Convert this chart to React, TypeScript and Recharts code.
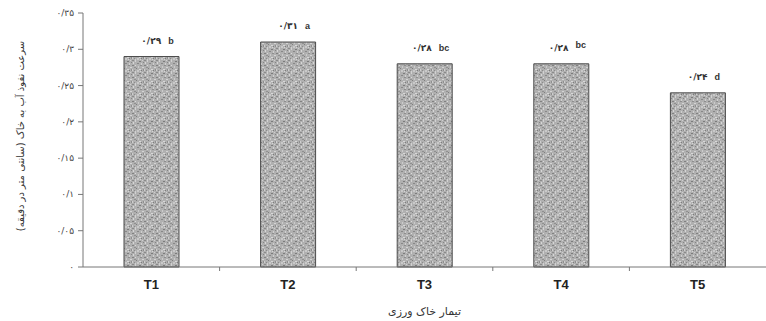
import { BarChart, Bar, XAxis, YAxis, LabelList } from 'recharts';

const categories = ['T1', 'T2', 'T3', 'T4', 'T5'];
const values = [0.29, 0.31, 0.28, 0.28, 0.24];
const letters = ['b', 'a', 'bc', 'bc', 'd'];
const yTicks = [0, 0.05, 0.1, 0.15, 0.2, 0.25, 0.3, 0.35];

const data = categories.map((name, i) => ({ name, value: values[i], letter: letters[i] }));

const faDigits = '۰۱۲۳۴۵۶۷۸۹';
const toFa = (v: number) =>
  String(Number(v.toFixed(2)))
    .replace('.', '/')
    .replace(/\d/g, (d) => faDigits[Number(d)]);

const W = 766;
const H = 321;
const LEFT = 83;
const band = (W - LEFT) / categories.length;
const faFont = '"DejaVu Sans", sans-serif';

// speckles for the granite-like bar fill: [x, y, w, h, colour]
const grains: [number, number, number, number, string][] = [
  [0, 0, 2, 1, '#8a8a8a'], [3, 0, 1, 2, '#d2d2d2'], [7, 1, 2, 1, '#7c7c7c'], [10, 0, 1, 1, '#cfcfcf'],
  [1, 2, 1, 2, '#d6d6d6'], [5, 3, 2, 1, '#888'], [9, 3, 1, 2, '#d0d0d0'], [11, 2, 1, 1, '#858585'],
  [0, 5, 2, 1, '#818181'], [3, 5, 1, 1, '#dadada'], [6, 6, 1, 2, '#cbcbcb'], [8, 5, 2, 1, '#8e8e8e'],
  [2, 7, 2, 1, '#909090'], [10, 7, 2, 1, '#d4d4d4'], [4, 8, 1, 1, '#7f7f7f'], [0, 9, 1, 2, '#cecece'],
  [7, 9, 2, 1, '#d8d8d8'], [2, 10, 1, 1, '#8b8b8b'], [5, 10, 2, 2, '#c9c9c9'], [9, 10, 1, 1, '#7d7d7d'],
  [11, 9, 1, 2, '#8f8f8f'], [3, 11, 1, 1, '#d1d1d1'], [8, 11, 1, 1, '#d5d5d5'],
];

function XTick(props: any) {
  const { x, y, payload, index } = props;
  return (
    <g>
      {index > 0 && <line x1={x - band / 2} x2={x - band / 2} y1={y - 8} y2={y - 4} stroke="#777" />}
      <text x={x} y={y + 14} textAnchor="middle" fontFamily="Liberation Sans, Arial" fontWeight="bold" fontSize={13} fill="#222">
        {payload.value}
      </text>
    </g>
  );
}

function YTick(props: any) {
  const { x, y, payload } = props;
  return (
    <text x={x - 2} y={y + 3} textAnchor="end" fontFamily={faFont} fontSize={9} fill="#444">
      {toFa(payload.value)}
    </text>
  );
}

function ValueLabel(props: any) {
  const { x, y, width, value, index } = props;
  const raised = index === 3;
  return (
    <text x={x + width / 2 + 6} y={y - 13} textAnchor="middle" fontFamily={faFont} fontWeight="bold" fontSize={9} fill="#333">
      {toFa(value)}
      <tspan fontFamily="Liberation Sans, Arial" dx={7} dy={raised ? -3 : 0}>{letters[index]}</tspan>
    </text>
  );
}

export default function App() {
  return (
    <div style={{ position: 'absolute', left: 0, top: 0, width: W, height: H, background: '#fff' }}>
      <BarChart width={W} height={H} data={data} margin={{ top: 13, right: 0, left: 0, bottom: 0 }} barSize={55}>
        <defs>
          <pattern id="grain" width="12" height="12" patternUnits="userSpaceOnUse">
            <rect width="12" height="12" fill="#b0b0b0" />
            {grains.map(([gx, gy, gw, gh, c], i) => (
              <rect key={i} x={gx} y={gy} width={gw} height={gh} fill={c} />
            ))}
          </pattern>
        </defs>
        <XAxis
          dataKey="name"
          axisLine={{ stroke: '#777' }}
          tickLine={false}
          tick={<XTick />}
          interval={0}
          height={54}
          label={{
            value: 'تیمار خاک ورزی',
            position: 'insideBottom',
            offset: 6,
            style: { fontFamily: faFont, fontSize: 11, fill: '#333' },
          }}
        />
        <YAxis
          domain={[0, 0.35]}
          ticks={yTicks}
          width={LEFT}
          axisLine={{ stroke: '#777' }}
          tickLine={{ stroke: '#777' }}
          tickSize={5}
          tick={<YTick />}
          label={{
            value: 'سرعت نفوذ آب به خاک (سانتی متر در دقیقه)',
            angle: -90,
            position: 'insideLeft',
            offset: 20,
            dy: -4,
            style: { fontFamily: faFont, fontSize: 10, fill: '#333', textAnchor: 'middle' },
          }}
        />
        <Bar dataKey="value" fill="url(#grain)" stroke="#4a4a4a" strokeWidth={1} isAnimationActive={false}>
          <LabelList dataKey="value" content={<ValueLabel />} />
        </Bar>
      </BarChart>
    </div>
  );
}
